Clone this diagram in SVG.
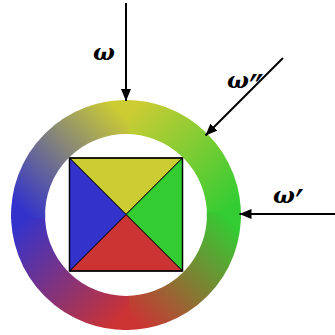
<svg xmlns="http://www.w3.org/2000/svg" width="335" height="335" viewBox="0 0 335 335">
<style>
.ring{fill:none;stroke-width:34}
.conn{stroke:#000;stroke-width:2;fill:none;marker-end:url(#ah)}
.lbl{font-family:"DejaVu Serif",serif;font-style:italic;font-weight:bold;font-size:23px;fill:#000}
.pr{font-family:"DejaVu Sans",sans-serif;font-style:normal;font-weight:normal;font-size:40px}
.tri{stroke:#000;stroke-width:1;stroke-linejoin:round}
</style>
<defs>
<marker id="ah" viewBox="0 0 12 10" refX="12" refY="5" markerWidth="12" markerHeight="10" markerUnits="userSpaceOnUse" orient="auto">
<path d="M0,0 L12,5 L0,10 Z" fill="#000"/>
</marker>
<linearGradient id="g1" gradientUnits="userSpaceOnUse" x1="126" y1="117" x2="224" y2="215"><stop offset="0" stop-color="#cccc33"/><stop offset="1" stop-color="#33cc33"/></linearGradient>
<linearGradient id="g2" gradientUnits="userSpaceOnUse" x1="224" y1="215" x2="126" y2="313"><stop offset="0" stop-color="#33cc33"/><stop offset="1" stop-color="#cc3333"/></linearGradient>
<linearGradient id="g3" gradientUnits="userSpaceOnUse" x1="126" y1="313" x2="28" y2="215"><stop offset="0" stop-color="#cc3333"/><stop offset="1" stop-color="#3333cc"/></linearGradient>
<linearGradient id="g4" gradientUnits="userSpaceOnUse" x1="28" y1="215" x2="126" y2="117"><stop offset="0" stop-color="#3333cc"/><stop offset="1" stop-color="#cccc33"/></linearGradient>
</defs>
<g id="ring">
<path class="ring" stroke="url(#g1)" d="M122.6,117.1 A98,98 0 0 1 223.9,218.4"/>
<path class="ring" stroke="url(#g2)" d="M223.9,211.6 A98,98 0 0 1 122.6,312.9"/>
<path class="ring" stroke="url(#g3)" d="M129.4,312.9 A98,98 0 0 1 28.1,211.6"/>
<path class="ring" stroke="url(#g4)" d="M28.1,218.4 A98,98 0 0 1 129.4,117.1"/>
</g>
<g id="square">
<polygon class="tri" fill="#cccc33" points="69.5,158 182.5,158 126,214.5"/>
<polygon class="tri" fill="#33cc33" points="182.5,158 182.5,271 126,214.5"/>
<polygon class="tri" fill="#cc3333" points="182.5,271 69.5,271 126,214.5"/>
<polygon class="tri" fill="#3333cc" points="69.5,271 69.5,158 126,214.5"/>
<rect x="69.5" y="158" width="113" height="113" fill="none" stroke="#000" stroke-width="1.5"/>
</g>
<g id="connectors">
<path class="conn" d="M126,3 L126,101"/>
<path class="conn" d="M283,58 L205.5,135.5"/>
<path class="conn" d="M335,214 L239.5,214"/>
</g>
<g id="labels">
<text class="lbl" x="93" y="60">ω</text>
<text class="lbl" x="227" y="88">ω<tspan class="pr" dy="16">″</tspan></text>
<text class="lbl" x="273" y="203">ω<tspan class="pr" dy="16">′</tspan></text>
</g>
</svg>
